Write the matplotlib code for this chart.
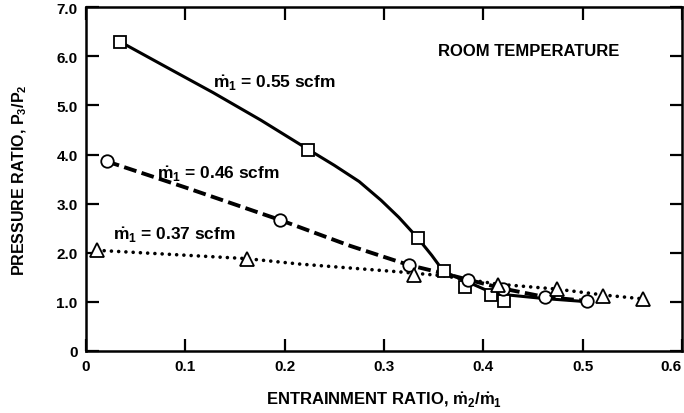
import matplotlib
matplotlib.use("Agg")
import matplotlib.pyplot as plt

plt.rcParams['font.family'] = ['Liberation Sans', 'DejaVu Sans']
plt.rcParams['font.weight'] = 'bold'
plt.rcParams['axes.labelweight'] = 'bold'
plt.rcParams['mathtext.fontset'] = 'custom'
plt.rcParams['mathtext.rm'] = 'Liberation Sans:bold'
plt.rcParams['mathtext.it'] = 'Liberation Sans:bold'
plt.rcParams['mathtext.bf'] = 'Liberation Sans:bold'

# measured points (marker positions)
sq_x = [0.034, 0.224, 0.334, 0.360, 0.382, 0.408, 0.421]
sq_y = [6.30, 4.10, 2.30, 1.62, 1.30, 1.14, 1.02]
ci_x = [0.021, 0.195, 0.325, 0.385, 0.420, 0.462, 0.504]
ci_y = [3.86, 2.67, 1.75, 1.45, 1.26, 1.10, 1.02]
tr_x = [0.011, 0.162, 0.330, 0.415, 0.474, 0.521, 0.561]
tr_y = [2.06, 1.88, 1.55, 1.34, 1.26, 1.12, 1.06]

# faired curves
solid_x = [0.034, 0.080, 0.128, 0.176, 0.224, 0.250, 0.275, 0.297, 0.315, 0.334, 0.348, 0.360, 0.385, 0.405, 0.42, 0.46, 0.50]
solid_y = [6.30, 5.79, 5.26, 4.70, 4.10, 3.78, 3.45, 3.07, 2.72, 2.30, 1.95, 1.62, 1.40, 1.22, 1.15, 1.07, 1.01]
dash_x = [0.021, 0.10, 0.195, 0.266, 0.316, 0.325, 0.36, 0.385, 0.42, 0.462, 0.504]
dash_y = [3.86, 3.33, 2.67, 2.14, 1.81, 1.75, 1.58, 1.45, 1.27, 1.10, 1.02]
dot_x = [0.011, 0.162, 0.215, 0.316, 0.36, 0.415, 0.474, 0.521, 0.561]
dot_y = [2.05, 1.88, 1.77, 1.61, 1.53, 1.36, 1.26, 1.14, 1.06]

x_ticks = [0, 0.1, 0.2, 0.3, 0.4, 0.5, 0.6]
x_labels = ['0', '0.1', '0.2', '0.3', '0.4', '0.5', '0.6']
y_ticks = [0, 1, 2, 3, 4, 5, 6, 7]
y_labels = ['0', '1.0', '2.0', '3.0', '4.0', '5.0', '6.0', '7.0']

fig = plt.figure(figsize=(6.84, 4.14), dpi=100)
ax = fig.add_axes([0.1257, 0.1498, 0.8713, 0.8305])

ax.plot(solid_x, solid_y, color='black', lw=2.2, solid_capstyle='round',
        solid_joinstyle='round', zorder=2)
ax.plot(dash_x, dash_y, color='black', lw=2.8, dashes=(3.3, 1.4), zorder=2)
ax.plot(dot_x, dot_y, color='black', lw=2.6, dashes=(0.01, 2.0),
        dash_capstyle='round', zorder=2)

mk = dict(linestyle='none', markerfacecolor='white', markeredgecolor='black',
          markeredgewidth=1.3, zorder=3)
ax.plot(sq_x, sq_y, marker='s', markersize=8.6, **mk)
ax.plot(ci_x, ci_y, marker='o', markersize=9, **mk)
ax.plot(tr_x, tr_y, marker='^', markersize=9.5, **mk)

ax.set_xlim(0, 0.6)
ax.set_ylim(0, 7)
ax.set_xticks(x_ticks)
ax.set_xticklabels(x_labels)
ax.set_yticks(y_ticks)
ax.set_yticklabels(y_labels)
ax.get_xticklabels()[-1].set_horizontalalignment('right')
ax.tick_params(direction='in', length=9, width=1.6, labelsize=11, pad=6,
               top=True, right=True)
for s in ax.spines.values():
    s.set_linewidth(1.8)

ax.set_xlabel(r'ENTRAINMENT RATIO, $\dot{\mathbf{m}}_{\mathbf{2}}/\dot{\mathbf{m}}_{\mathbf{1}}$',
              fontsize=12, labelpad=12)
ax.set_ylabel(r'PRESSURE RATIO, P$_{\mathbf{3}}$/P$_{\mathbf{2}}$', fontsize=11.5, labelpad=20)

ax.text(0.3545, 6.11, 'ROOM TEMPERATURE', fontsize=12, ha='left', va='center')
ax.text(0.128, 5.48, r'$\dot{\mathbf{m}}_{\mathbf{1}}$ = 0.55 scfm', fontsize=12.5, ha='left', va='center')
ax.text(0.072, 3.62, r'$\dot{\mathbf{m}}_{\mathbf{1}}$ = 0.46 scfm', fontsize=12.5, ha='left', va='center')
ax.text(0.027, 2.38, r'$\dot{\mathbf{m}}_{\mathbf{1}}$ = 0.37 scfm', fontsize=12.5, ha='left', va='center')

fig.savefig('out.png', dpi=100)
